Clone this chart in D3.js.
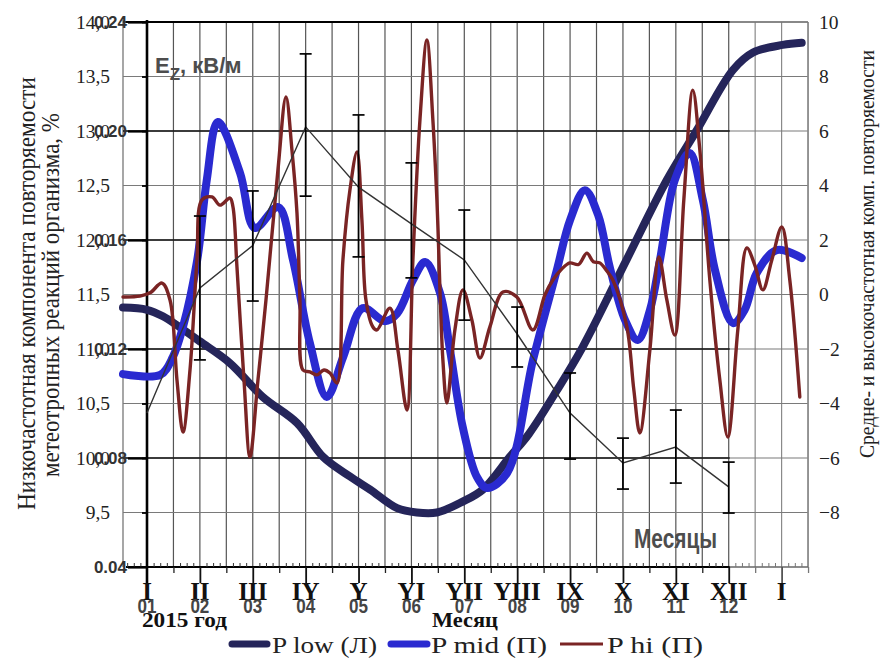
<!DOCTYPE html>
<html><head><meta charset="utf-8">
<script src="https://cdn.jsdelivr.net/npm/d3@7"></script>
<style>body{margin:0;background:#fff} svg{display:block}</style>
</head><body><svg id="c" width="885" height="663"></svg>
<script>
// ---------- data ----------
const monthRoman = ["I","II","III","IY","Y","YI","YII","YIII","IX","X","XI","XII","I"];
const monthNum = ["01","02","03","04","05","06","07","08","09","10","11","12"];
const leftTicks = [9.5,10,10.5,11,11.5,12,12.5,13,13.5,14];
const ezTicks = [0.04,0.08,0.12,0.16,0.20,0.24];
const rightTicks = [-8,-6,-4,-2,0,2,4,6,8,10];

// month index (0 = January 2015) and value
const pLowT = [-0.454,0,0.3,0.62,1.0,1.57,2.19,2.84,3.33,3.84,4.22,4.73,5.10,5.48,5.97,6.35,6.86,7.22,7.75,8.24,9.07,9.83,10.40,11.08,11.46,12.02,12.38];
const pLowV = [11.38,11.36,11.30,11.20,11.07,10.87,10.56,10.32,10.01,9.83,9.71,9.54,9.50,9.50,9.60,9.71,10.01,10.22,10.62,11.02,11.82,12.55,13.01,13.56,13.72,13.79,13.81];

const pMidT = [-0.454,0.25,0.49,0.68,0.95,1.13,1.34,1.76,2.04,2.48,2.76,3.08,3.40,3.71,4.08,4.50,4.73,5.03,5.26,5.54,5.73,5.97,6.24,6.43,6.81,7.30,7.75,8.0,8.28,8.53,8.75,9.04,9.28,9.51,9.70,9.98,10.26,10.51,10.74,11.08,11.30,11.53,11.91,12.38];
const pMidV = [-2.92,-2.95,-2.29,-1.19,1.27,4.20,6.33,4.46,2.44,3.21,1.27,-1.78,-3.76,-2.29,-0.50,-0.98,-0.70,0.53,1.19,0.06,-2.04,-4.86,-6.70,-7.10,-6.55,-2.40,0.90,2.73,3.83,2.92,1.01,-0.94,-1.67,-0.57,1.27,4.20,5.19,3.47,0.90,-1.05,-0.57,0.79,1.63,1.34];

const pHiT = [-0.454,-0.132,0.057,0.284,0.435,0.567,0.681,0.813,0.945,1.040,1.229,1.380,1.569,1.626,1.701,1.834,1.947,2.098,2.250,2.476,2.628,2.741,2.836,2.892,2.949,3.081,3.214,3.346,3.459,3.592,3.705,3.837,3.970,4.064,4.140,4.272,4.348,4.594,4.745,4.915,5.028,5.161,5.293,5.406,5.482,5.595,5.671,5.822,5.974,6.144,6.295,6.484,6.730,6.994,7.297,7.524,7.675,7.850,7.996,8.160,8.318,8.440,8.563,8.700,8.809,9.074,9.206,9.319,9.509,9.679,9.830,9.981,10.151,10.321,10.454,10.643,10.832,10.983,11.172,11.342,11.493,11.645,11.815,12.004,12.155,12.344];
const pHiV = [-0.09,-0.06,0.06,0.42,-0.20,-3.14,-5.05,-2.77,1.27,3.47,3.58,3.28,3.54,3.21,1.01,-3.14,-5.96,-3.14,-0.20,4.57,7.25,5.30,2.99,-0.20,-2.77,-2.84,-2.95,-2.77,-2.88,-3.25,1.27,3.83,5.23,2.73,-0.20,-1.19,-1.30,-0.50,-2.04,-4.24,1.27,6.40,9.34,6.40,3.47,-2.40,-3.98,-1.30,0.17,-0.94,-2.33,-1.19,0.09,-0.09,-1.30,-0.02,0.53,0.95,1.16,1.10,1.52,1.20,1.16,0.85,0.53,-1.19,-3.50,-5.08,-2.04,1.38,-0.20,-1.49,3.47,7.50,5.30,0.53,-3.14,-5.23,-1.30,1.71,1.08,0.17,1.27,2.48,0.53,-3.76];

const ezMonth = [0,1,2,3,4,5,6,7,8,9,10,11];
const ezValue = [0.0965,0.1424,0.158,0.2015,0.1794,0.1659,0.1527,0.1255,0.0965,0.0782,0.084,0.0694];
const ezErrLow  = [null,0.1160,0.1376,0.1761,0.1538,0.1461,0.1306,0.1134,0.0796,0.0686,0.0708,0.0598];
const ezErrHigh = [null,0.1688,0.178,0.2283,0.2059,0.1883,0.1710,0.1354,0.1112,0.0873,0.0976,0.0785];

const seriesNames = ["P low (Л)","P mid (П)","P hi (П)"];

// ---------- scales ----------
const svg = d3.select("#c");
const SERIF = "'Liberation Serif','Times New Roman',serif";
const SANS = "'Liberation Sans',Arial,sans-serif";
const x = d3.scaleLinear().domain([0,12]).range([147,781.6]);
const yL = d3.scaleLinear().domain([9,14]).range([567,22]);
const yR = d3.scaleLinear().domain([-10,10]).range([567,22]);
const yE = d3.scaleLinear().domain([0.04,0.24]).range([567,22]);
const xLeftEdge = 123, xRightEdge = x(12.5), xEzEnd = x(11)+1;
const colLow = "#25255a", colMid = "#2a2ad0", colHi = "#7a2424";

// ---------- grid ----------
const grid = svg.append("g");
grid.selectAll("line.v").data(d3.range(0.5, 12.51, 0.5)).join("line")
  .attr("x1", d=>x(d)).attr("x2", d=>x(d)).attr("y1", yL(14)).attr("y2", yL(9))
  .attr("stroke", d=> d>11 ? "#8a8a8a" : "#555").attr("stroke-width", 1.2);
grid.append("line").attr("x1",xLeftEdge).attr("x2",xLeftEdge).attr("y1",20).attr("y2",yL(9))
  .attr("stroke","#777").attr("stroke-width",1.3);
grid.selectAll("line.h").data(d3.range(9.5, 14.01, 0.5)).join("line")
  .attr("x1", xLeftEdge).attr("x2", xRightEdge).attr("y1", d=>yL(d)).attr("y2", d=>yL(d))
  .attr("stroke", "#7a7a7a").attr("stroke-width", 1.2);
grid.selectAll("line.e").data(ezTicks.slice(1)).join("line")
  .attr("x1", xLeftEdge).attr("x2", xEzEnd).attr("y1", d=>yE(d)).attr("y2", d=>yE(d))
  .attr("stroke", "#111").attr("stroke-width", 1.5);
grid.append("line").attr("x1",xRightEdge).attr("x2",xRightEdge).attr("y1",yR(10)).attr("y2",yR(-10))
  .attr("stroke","#8a8a8a").attr("stroke-width",1.5);
grid.append("line").attr("x1",xEzEnd).attr("x2",xRightEdge).attr("y1",yL(9)).attr("y2",yL(9))
  .attr("stroke","#666").attr("stroke-width",1.6);
grid.append("line").attr("x1",126).attr("x2",xEzEnd).attr("y1",yL(9)).attr("y2",yL(9))
  .attr("stroke","#000").attr("stroke-width",2.2);

const minorT = d3.range(-0.375, 12.5, 0.125).filter(d => Math.abs(d*2 - Math.round(d*2))>1e-6);
svg.append("g").attr("transform",`translate(0,${yL(9)})`)
  .call(d3.axisBottom(x).tickValues(minorT).tickSize(-4).tickFormat(""))
  .call(g=>g.select(".domain").remove())
  .call(g=>g.selectAll("line").attr("stroke", d=> d>11 ? "#777" : "#333").attr("stroke-width",1));
svg.append("g").attr("transform",`translate(0,${yL(9)})`)
  .call(d3.axisBottom(x).tickValues(d3.range(0.5, 12.51, 1)).tickSize(6).tickFormat(""))
  .call(g=>g.select(".domain").remove())
  .call(g=>g.selectAll("line").attr("stroke", d=> d>11 ? "#777" : "#222").attr("stroke-width",1.3));
svg.append("g").attr("transform",`translate(0,${yL(9)})`)
  .call(d3.axisBottom(x).tickValues(d3.range(1, 13, 1)).tickSize(16).tickFormat(""))
  .call(g=>g.select(".domain").remove())
  .call(g=>g.selectAll("line").attr("stroke", d=> d>11 ? "#555" : "#111").attr("stroke-width",1.8));

svg.append("line").attr("x1",x(0)).attr("x2",x(0)).attr("y1",20).attr("y2",584)
  .attr("stroke","#000").attr("stroke-width",2.6);
svg.append("line").attr("x1",126).attr("x2",xEzEnd).attr("y1",yL(14)).attr("y2",yL(14))
  .attr("stroke","#000").attr("stroke-width",1.8);
svg.append("line").attr("x1",xEzEnd).attr("x2",xRightEdge).attr("y1",yL(14)).attr("y2",yL(14))
  .attr("stroke","#777").attr("stroke-width",1.5);

// ---------- axes labels ----------
svg.append("g").attr("transform",`translate(${x(0)},0)`)
  .call(d3.axisLeft(yL).tickValues(leftTicks).tickSize(5).tickPadding(32)
        .tickFormat(d=>d3.format(".1f")(d).replace(".",",")))
  .call(g=>g.select(".domain").remove())
  .call(g=>g.selectAll("line").attr("stroke","#000").attr("stroke-width",1.8))
  .call(g=>g.selectAll("text").attr("font-family",SERIF).attr("font-size",19.5).attr("fill","#222"));
svg.append("g").attr("transform",`translate(${x(0)},0)`)
  .call(d3.axisLeft(yE).tickValues(ezTicks).tickSize(19).tickPadding(1).tickFormat(d3.format(".2f")))
  .call(g=>g.select(".domain").remove())
  .call(g=>g.selectAll("line").attr("stroke","#000").attr("stroke-width",2.2))
  .call(g=>g.selectAll("text").attr("font-family",SANS).attr("font-weight","bold")
        .attr("font-size",17).attr("fill","#333"));
svg.append("g").attr("transform",`translate(${xRightEdge},0)`)
  .call(d3.axisRight(yR).tickValues(rightTicks).tickSize(0).tickPadding(11).tickFormat(d3.format("d")))
  .call(g=>g.select(".domain").remove())
  .call(g=>g.selectAll("text").attr("font-family",SERIF).attr("font-size",19.5).attr("fill","#222"));

svg.append("g").selectAll("text").data(monthRoman).join("text")
  .attr("x",(d,i)=>x(i)).attr("y",600).attr("text-anchor","middle")
  .attr("font-family",SERIF).attr("font-weight","bold").attr("font-size",25).attr("fill","#111")
  .text(d=>d);
svg.append("g").selectAll("text").data(monthNum).join("text")
  .attr("x",(d,i)=>x(i)).attr("y",613).attr("text-anchor","middle")
  .attr("font-family",SANS).attr("font-weight","bold").attr("font-size",20).attr("fill","#444")
  .attr("textLength",19).attr("lengthAdjust","spacingAndGlyphs")
  .text(d=>d);

// ---------- series ----------
const lineL = d3.line().x(d=>x(d[0])).y(d=>yL(d[1])).curve(d3.curveCatmullRom.alpha(0.5));
const lineR = d3.line().x(d=>x(d[0])).y(d=>yR(d[1])).curve(d3.curveCatmullRom.alpha(0.5));
const lineE = d3.line().x(d=>x(d[0])).y(d=>yE(d[1]));

svg.append("path").datum(d3.zip(pLowT,pLowV)).attr("d",lineL)
  .attr("fill","none").attr("stroke",colLow).attr("stroke-width",8).attr("stroke-linecap","round").attr("stroke-linejoin","round");
svg.append("path").datum(d3.zip(pMidT,pMidV)).attr("d",lineR)
  .attr("fill","none").attr("stroke",colMid).attr("stroke-width",8).attr("stroke-linecap","round").attr("stroke-linejoin","round");
svg.append("path").datum(d3.zip(pHiT,pHiV)).attr("d",lineR)
  .attr("fill","none").attr("stroke",colHi).attr("stroke-width",3.4).attr("stroke-linecap","round").attr("stroke-linejoin","round");

svg.append("path").datum(d3.zip(ezMonth,ezValue)).attr("d",lineE)
  .attr("fill","none").attr("stroke","#333").attr("stroke-width",1.4);
const eb = svg.append("g").attr("stroke","#000").attr("stroke-width",1.7);
ezMonth.forEach((m,i)=>{
  if (ezErrLow[i]==null) return;
  eb.append("line").attr("x1",x(m)).attr("x2",x(m)).attr("y1",yE(ezErrLow[i])).attr("y2",yE(ezErrHigh[i]));
  [ezErrLow[i],ezErrHigh[i]].forEach(v=>{
    eb.append("line").attr("x1",x(m)-6).attr("x2",x(m)+6).attr("y1",yE(v)).attr("y2",yE(v));
  });
});

// ---------- texts ----------
const ez = svg.append("text").attr("x",155).attr("y",73).attr("font-family",SANS).attr("font-weight","bold")
  .attr("font-size",22).attr("fill","#4d4d4d");
ez.append("tspan").text("E");
ez.append("tspan").attr("font-size",17).attr("dy",7).text("Z");
ez.append("tspan").attr("dy",-7).text(", кВ/м");

svg.append("text").attr("x",634).attr("y",548).attr("font-family",SANS).attr("font-weight","bold")
  .attr("font-size",28).attr("fill","#4d4d4d").attr("textLength",83).attr("lengthAdjust","spacingAndGlyphs")
  .text("Месяцы");
svg.append("text").attr("x",142).attr("y",627).attr("font-family",SERIF).attr("font-weight","bold")
  .attr("font-size",21).attr("fill","#111").attr("textLength",85).attr("lengthAdjust","spacingAndGlyphs")
  .text("2015 год");
svg.append("text").attr("x",432).attr("y",627).attr("font-family",SERIF).attr("font-weight","bold")
  .attr("font-size",21).attr("fill","#111").attr("textLength",66).attr("lengthAdjust","spacingAndGlyphs")
  .text("Месяц");

svg.append("text").attr("transform","translate(35,293.5) rotate(-90)").attr("text-anchor","middle")
  .attr("font-family",SERIF).attr("font-size",25).attr("fill","#222")
  .attr("textLength",433).attr("lengthAdjust","spacingAndGlyphs")
  .text("Низкочастотная компонента повторяемости");
svg.append("text").attr("transform","translate(59,295) rotate(-90)").attr("text-anchor","middle")
  .attr("font-family",SERIF).attr("font-size",25).attr("fill","#222")
  .attr("textLength",364).attr("lengthAdjust","spacingAndGlyphs")
  .text("метеотропных реакций организма, %");
svg.append("text").attr("transform","translate(874,254) rotate(-90)").attr("text-anchor","middle")
  .attr("font-family",SERIF).attr("font-size",22).attr("fill","#222")
  .attr("textLength",408).attr("lengthAdjust","spacingAndGlyphs")
  .text("Средне- и высокочастотная комп. повторяемости");

// ---------- legend ----------
const legendItems = [
  {name: seriesNames[0], color: colLow, w: 7, x0: 232, x1: 267, tx: 272, tl: 105},
  {name: seriesNames[1], color: colMid, w: 7, x0: 391, x1: 427, tx: 431, tl: 116},
  {name: seriesNames[2], color: colHi, w: 3.2, x0: 560, x1: 603, tx: 607, tl: 96}
];
const lg = svg.append("g");
legendItems.forEach(it=>{
  lg.append("line").attr("x1",it.x0).attr("x2",it.x1).attr("y1",644).attr("y2",644)
    .attr("stroke",it.color).attr("stroke-width",it.w).attr("stroke-linecap", it.w>5?"round":"butt");
  lg.append("text").attr("x",it.tx).attr("y",653).attr("font-family",SERIF).attr("font-size",24)
    .attr("fill","#222").attr("textLength",it.tl).attr("lengthAdjust","spacingAndGlyphs").text(it.name);
});
</script></body></html>
